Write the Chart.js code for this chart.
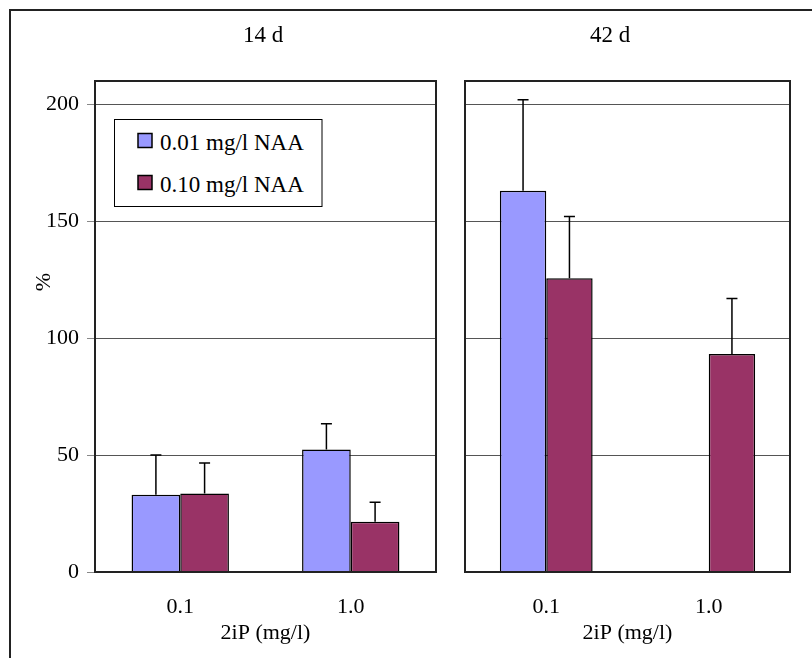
<!DOCTYPE html>
<html><head><meta charset="utf-8">
<script src="https://cdn.jsdelivr.net/npm/chart.js@4.4.0/dist/chart.umd.min.js"></script>
<style>
html,body{margin:0;padding:0;background:#fff;overflow:hidden;}
#wrap{position:relative;width:812px;height:658px;overflow:hidden;}
#c1{position:absolute;left:0;top:0;width:450px;height:658px;}
#c2{position:absolute;left:450px;top:0;width:362px;height:658px;}
#ov{position:absolute;left:0;top:0;pointer-events:none;}
</style></head><body>
<div id="wrap">
<canvas id="c1" width="450" height="658"></canvas>
<canvas id="c2" width="362" height="658"></canvas>
<svg id="ov" width="812" height="658" xmlns="http://www.w3.org/2000/svg"></svg>
</div>
<script>
// ---- data ----
const categories = ['0.1', '1.0'];
const seriesNames = ['0.01 mg/l NAA', '0.10 mg/l NAA'];
const seriesColors = ['#9999FF', '#993366'];
const panelTitles = ['14 d', '42 d'];
const xAxisTitle = '2iP (mg/l)';
const yAxisTitle = '%';
const yTicks = [0, 50, 100, 150, 200];
const yMax = 210;

const d14Naa001 = [33.0, 52.4];
const d14Naa001Err = [17.0, 11.0];
const d14Naa010 = [33.6, 21.5];
const d14Naa010Err = [13.0, 8.3];

const d42Naa001 = [163.1, null];
const d42Naa001Err = [38.9, null];
const d42Naa010 = [125.6, 93.2];
const d42Naa010Err = [26.5, 23.8];

// ---- styling ----
const FONT = "'Liberation Serif','Times New Roman',serif";

const errorBars = {
  id: 'errorBars',
  afterDatasetsDraw(chart) {
    const ctx = chart.ctx, y = chart.scales.y;
    chart.data.datasets.forEach((ds, i) => {
      const meta = chart.getDatasetMeta(i);
      meta.data.forEach((bar, j) => {
        const v = ds.data[j], e = ds.errors[j];
        if (v == null || e == null) return;
        const top = y.getPixelForValue(v + e);
        ctx.save();
        ctx.strokeStyle = '#000';
        ctx.lineWidth = 1.5;
        ctx.beginPath();
        ctx.moveTo(bar.x, bar.y);
        ctx.lineTo(bar.x, top);
        ctx.moveTo(bar.x - 5.5, top);
        ctx.lineTo(bar.x + 5.5, top);
        ctx.stroke();
        ctx.restore();
      });
    });
  }
};

const panelFrame = {
  id: 'panelFrame',
  afterDatasetsDraw(chart) {
    const a = chart.chartArea, ctx = chart.ctx;
    ctx.save();
    ctx.strokeStyle = '#222';
    ctx.lineWidth = 2;
    ctx.strokeRect(a.left, a.top, a.right - a.left, a.bottom - a.top);
    ctx.restore();
  }
};

function makeChart(id, vals1, errs1, vals2, errs2, showY, padRight, yWidth) {
  return new Chart(document.getElementById(id), {
    type: 'bar',
    data: {
      labels: categories,
      datasets: [
        { label: seriesNames[0], data: vals1, errors: errs1, backgroundColor: seriesColors[0],
          borderColor: '#000', borderWidth: 1.5, barPercentage: 1, categoryPercentage: 0.571 },
        { label: seriesNames[1], data: vals2, errors: errs2, backgroundColor: seriesColors[1],
          borderColor: '#000', borderWidth: 1.5, barPercentage: 1, categoryPercentage: 0.571 }
      ]
    },
    options: {
      responsive: false,
      animation: false,
      layout: { padding: { top: 81, right: padRight, left: 0, bottom: 0 } },
      plugins: { legend: { display: false }, tooltip: { enabled: false } },
      scales: {
        x: {
          grid: { display: false },
          border: { display: false },
          ticks: { font: { family: FONT, size: 22 }, color: '#000', padding: 14 },
          title: { display: true, text: xAxisTitle, font: { family: FONT, size: 22 }, color: '#000',
                   padding: { top: 0, bottom: 12 } },
          afterFit(s) { s.height = 86; }
        },
        y: {
          min: 0, max: yMax,
          afterBuildTicks(s) { s.ticks = yTicks.map(v => ({ value: v })); },
          grid: { color: '#555', lineWidth: 1, drawTicks: showY, tickLength: 8, tickColor: '#888' },
          border: { display: false },
          ticks: { display: showY, font: { family: FONT, size: 22 }, color: '#000', padding: 8 },
          afterFit(s) { s.width = yWidth; }
        }
      }
    },
    plugins: [panelFrame, errorBars]
  });
}

makeChart('c1', d14Naa001, d14Naa001Err, d14Naa010, d14Naa010Err, true, 14, 95);
makeChart('c2', d42Naa001, d42Naa001Err, d42Naa010, d42Naa010Err, false, 22, 15);

// ---- overlay text: frame, panel titles, y title, legend ----
const NS = 'http://www.w3.org/2000/svg';
const ov = document.getElementById('ov');
function el(tag, attrs, text) {
  const e = document.createElementNS(NS, tag);
  for (const k in attrs) e.setAttribute(k, attrs[k]);
  if (text != null) e.textContent = text;
  ov.appendChild(e);
  return e;
}
el('rect', { x: 10, y: 10, width: 900, height: 700, fill: 'none', stroke: '#222', 'stroke-width': 2 });
el('text', { x: 263, y: 42, 'text-anchor': 'middle', 'font-family': FONT, 'font-size': 23, fill: '#000' }, panelTitles[0]);
el('text', { x: 610, y: 42, 'text-anchor': 'middle', 'font-family': FONT, 'font-size': 23, fill: '#000' }, panelTitles[1]);
el('text', { transform: 'translate(42,282) rotate(-90)', 'text-anchor': 'middle', 'dominant-baseline': 'central',
             'font-family': FONT, 'font-size': 22, fill: '#000' }, yAxisTitle);
el('rect', { x: 114.5, y: 119.5, width: 207.5, height: 87, fill: '#fff', stroke: '#000', 'stroke-width': 1 });
const legY = [150, 192];
seriesNames.forEach((n, i) => {
  el('rect', { x: 138, y: legY[i] - 16.5, width: 14, height: 14, fill: seriesColors[i], stroke: '#000', 'stroke-width': 1.5 });
  el('text', { x: 160, y: legY[i], 'font-family': FONT, 'font-size': 23, fill: '#000' }, n);
});
</script>
</body></html>
